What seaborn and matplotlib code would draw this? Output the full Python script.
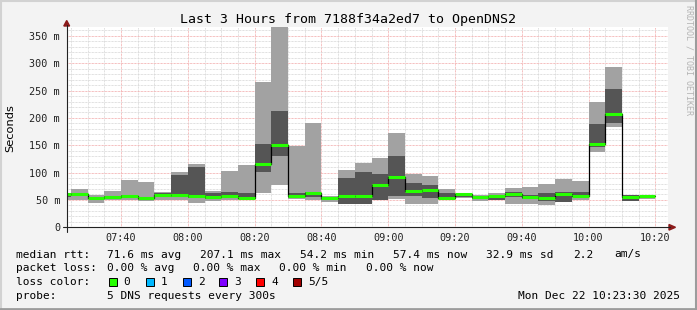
import numpy as np
import pandas as pd
import matplotlib
matplotlib.use("Agg")
import matplotlib.pyplot as plt
from matplotlib.patches import Rectangle, Polygon
from matplotlib.ticker import MultipleLocator, FuncFormatter
import seaborn as sns

# ---------------- data (ms) ----------------
bar_start = ["07:20", "07:25", "07:30", "07:35", "07:40", "07:45", "07:50", "07:55",
             "08:00", "08:05", "08:10", "08:15", "08:20", "08:25", "08:30", "08:35",
             "08:40", "08:45", "08:50", "08:55", "09:00", "09:05", "09:10", "09:15",
             "09:20", "09:25", "09:30", "09:35", "09:40", "09:45", "09:50", "09:55",
             "10:00", "10:05", "10:10", "10:15"]
ping_min = [50, 50, 45, 50, 50, 49, 50, 50, 45, 48.5, 50.5, 50, 63, 78, 51, 50,
            46, 43, 43, 50, 51, 43, 43, 50, 54, 48, 50, 43, 43, 41, 46, 50.5,
            138, 184, 49, 52]
ping_q2 = [56, 58, 51, 51, 54, 50, 55, 55, 53, 51, 55, 51, 102, 131, 53, 55,
           50, 43, 43, 50, 57, 57, 53, 53, 56, 51, 50, 55, 51, 49, 46, 55,
           146, 191, 49, 54]
median = [60, 61, 54.3, 55.5, 57.5, 54.5, 58.5, 59.5, 57.5, 55.5, 58, 54.3, 115, 151, 57.5, 63,
          54.3, 58, 58, 77.5, 92.5, 67, 69, 54.3, 60, 55.5, 58, 60, 55, 54.5, 60, 58,
          152, 207.1, 55.5, 57.4]
ping_q4 = [61, 63, 56, 57, 59, 55, 63, 96, 111, 62, 65, 63, 152, 213, 63, 65,
           56, 91, 102, 98, 130, 81, 77, 63, 61, 57, 58, 65, 59, 62, 64, 64,
           189, 253, 59, 57.5]
ping_max = [62, 69.5, 59, 66, 87, 82, 64, 102, 116, 66, 103, 114, 266, 380, 149, 191,
            58, 105, 118, 126, 173, 98, 94, 69.5, 63, 59, 63, 71, 74, 79, 88, 85,
            230, 293, 59.5, 58]

xtick_labels = ["07:40", "08:00", "08:20", "08:40", "09:00", "09:20", "09:40", "10:00", "10:20"]
ytick_values = [0, 50, 100, 150, 200, 250, 300, 350]

title = "Last 3 Hours from 7188f34a2ed7 to OpenDNS2"
rtt_stats = ["71.6 ms avg", "207.1 ms max", "54.2 ms min", "57.4 ms now", "32.9 ms sd", "2.2", "am/s"]
loss_stats = ["0.00 % avg", "0.00 % max", "0.00 % min", "0.00 % now"]
loss_labels = ["0", "1", "2", "3", "4", "5/5"]
loss_colors = ["#26ff00", "#00b8ff", "#0059ff", "#7e00ff", "#ff0000", "#a10000"]
probe_text = "5 DNS requests every 300s"
date_text = "Mon Dec 22 10:23:30 2025"

# ---------------- figure ----------------
sns.set_style("white")
MONO = "DejaVu Sans Mono"
W, H = 697, 310
BG = "#f3f3f3"
fig = plt.figure(figsize=(W / 100, H / 100), dpi=100, facecolor=BG)

top_px, bot_px = 27.3, 227.3
ax = fig.add_axes([67 / W, 1 - bot_px / H, (668 - 67) / W, (bot_px - top_px) / H])
ax.set_facecolor("white")

def to_min(s):
    h, m = s.split(":")
    return int(h) * 60 + int(m) - 420

t = np.array([to_min(s) for s in bar_start], dtype=float)
lo = np.array(ping_min); q2 = np.array(ping_q2); md = np.array(median)
q4 = np.array(ping_q4); hi = np.array(ping_max)

ax.bar(t, hi - lo, bottom=lo, width=5, align="edge", color="#a2a2a2", linewidth=0, zorder=2)
ax.bar(t, q4 - q2, bottom=q2, width=5, align="edge", color="#555555", linewidth=0, zorder=3)

df = pd.DataFrame({"t": np.append(t, t[-1] + 5), "rtt": np.append(md, md[-1])})
sns.lineplot(data=df, x="t", y="rtt", drawstyle="steps-post", color="black",
             linewidth=0.9, ax=ax, zorder=4)
ax.hlines(md, t, t + 5, colors=loss_colors[0], linewidth=2.2, zorder=5)

ax.set_xlim(23.8, 203.8)
ax.set_ylim(0, 365.8)

ax.xaxis.set_major_locator(MultipleLocator(20))
ax.xaxis.set_minor_locator(MultipleLocator(5))
ax.yaxis.set_major_locator(MultipleLocator(50))
ax.yaxis.set_minor_locator(MultipleLocator(10))

def xfmt(v, pos):
    v = int(round(v)) + 420
    return f"{v // 60:02d}:{v % 60:02d}"

def yfmt(v, pos):
    v = int(round(v))
    return "0" if v == 0 else f"{v} m"

ax.xaxis.set_major_formatter(FuncFormatter(xfmt))
ax.yaxis.set_major_formatter(FuncFormatter(yfmt))
ax.tick_params(which="both", length=0)
ax.tick_params(axis="y", pad=5.0, labelsize=7.3, labelcolor="#222222")
ax.tick_params(axis="x", pad=4.0, labelsize=7.3, labelcolor="#222222")
for lab in ax.get_xticklabels() + ax.get_yticklabels():
    lab.set_fontfamily(MONO)

dot = (0, (0.72, 0.72))
ax.grid(which="minor", color="#d6d6d6", linestyle=dot, linewidth=0.72, zorder=1)
ax.grid(which="major", color="#f2a8a8", linestyle=dot, linewidth=0.72, zorder=1)
ax.set_axisbelow(True)
for s in ax.spines.values():
    s.set_visible(False)
ax.set_xlabel("")
ax.set_ylabel("")

# ---------------- overlay in pixel coords ----------------
ov = fig.add_axes([0, 0, 1, 1], zorder=10)
ov.set_xlim(0, W)
ov.set_ylim(H, 0)
ov.axis("off")
ov.patch.set_alpha(0)

# axes lines with arrows
ov.plot([66.7, 66.7], [231.7, 25], color="#222222", linewidth=0.8)
ov.plot([62.7, 670], [227.3, 227.3], color="#222222", linewidth=0.8)
ov.add_patch(Polygon([[63.8, 26], [69.6, 26], [66.7, 20.5]], closed=True, color="#8b1a1a"))
ov.add_patch(Polygon([[669, 224.5], [669, 230.1], [675.5, 227.3]], closed=True, color="#8b1a1a"))

# frame
ov.plot([1, 1], [0, H], color="#d2d2d2", linewidth=1.5)
ov.plot([0, W], [0.8, 0.8], color="#d2d2d2", linewidth=1.5)
ov.plot([W - 1, W - 1], [0, H], color="#9c9c9c", linewidth=1.5)
ov.plot([0, W], [H - 1.2, H - 1.2], color="#9c9c9c", linewidth=2)

ov.text(348, 19.5, title, ha="center", va="center", fontsize=9.5, family=MONO, color="black")
ov.text(10, 128, "Seconds", ha="center", va="center", rotation=90, fontsize=8.2,
        family="DejaVu Sans", color="black")
ov.text(688.5, 5, "RRDTOOL / TOBI OETIKER", ha="center", va="top", rotation=-90,
        fontsize=6.0, family=MONO, color="#b4b4b4")

FS = 8.0
def txt(x, y, s, **kw):
    ov.text(x, y, s, ha=kw.pop("ha", "left"), va="center", fontsize=FS, family=MONO,
            color="black", **kw)

y1, y2, y3, y4 = 254.5, 268, 282.3, 296
txt(16, y1, "median rtt:")
for x, s in zip([107, 200, 300, 393, 486, 573, 614], rtt_stats):
    txt(x, y1, s)
txt(16, y2, "packet loss:")
for x, s in zip([107, 193, 279, 366], loss_stats):
    txt(x, y2, s)
txt(16, y3, "loss color:")
sq_x = [108.7, 145.7, 182.7, 219.3, 256, 293.3]
lab_x = [123.3, 160.7, 197.7, 234.7, 271, 308]
for sx, lx, c, l in zip(sq_x, lab_x, loss_colors, loss_labels):
    ov.add_patch(Rectangle((sx, 278.3), 8, 8, facecolor=c, edgecolor="black", linewidth=0.7))
    txt(lx, y3, l)
txt(16, y4, "probe:")
txt(107, y4, probe_text)
txt(680, y4, date_text, ha="right")

fig.savefig("out.png", dpi=100, facecolor=BG)
